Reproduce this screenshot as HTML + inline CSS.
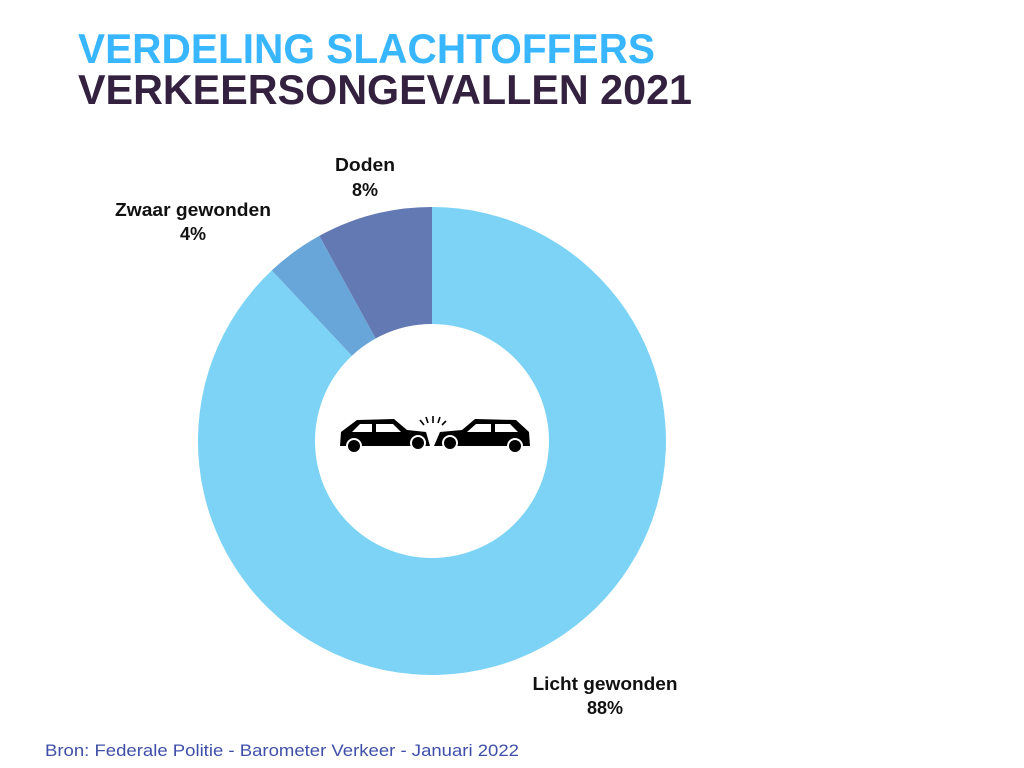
<!DOCTYPE html>
<html><head><meta charset="utf-8"><style>
html,body{margin:0;padding:0;background:#fff;}
svg{display:block;}
</style></head><body>
<svg width="1024" height="768" viewBox="0 0 1024 768" xmlns="http://www.w3.org/2000/svg">
<rect width="1024" height="768" fill="#fff"/>
<text x="78" y="63" font-family="Liberation Sans, sans-serif" font-weight="bold" font-size="42" fill="#38b6ff" textLength="577" lengthAdjust="spacingAndGlyphs">VERDELING SLACHTOFFERS</text>
<text x="78" y="104" font-family="Liberation Sans, sans-serif" font-weight="bold" font-size="42" fill="#33213f" textLength="614" lengthAdjust="spacingAndGlyphs">VERKEERSONGEVALLEN 2021</text>

<path d="M432 207 A234 234 0 1 1 271.8 270.4 L351.9 355.7 A117 117 0 1 0 432 324 Z" fill="#7dd3f5"/>
<path d="M319.3 235.9 A234 234 0 0 1 432 207 L432 324 A117 117 0 0 0 375.6 338.5 Z" fill="#6379b3"/>
<path d="M271.8 270.4 A234 234 0 0 1 319.3 235.9 L375.6 338.5 A117 117 0 0 0 351.9 355.7 Z" fill="#68a5d8"/>

<g font-family="Liberation Sans, sans-serif" font-weight="bold" font-size="18" fill="#111" text-anchor="middle">
<text x="365" y="171" textLength="60" lengthAdjust="spacingAndGlyphs">Doden</text>
<text x="365" y="196">8%</text>
<text x="193" y="216" textLength="156" lengthAdjust="spacingAndGlyphs">Zwaar gewonden</text>
<text x="193" y="240">4%</text>
<text x="605" y="690" textLength="145" lengthAdjust="spacingAndGlyphs">Licht gewonden</text>
<text x="605" y="714">88%</text>
</g>
<text x="45" y="756" font-family="Liberation Sans, sans-serif" font-size="17" fill="#3f4fa8" textLength="474" lengthAdjust="spacingAndGlyphs">Bron: Federale Politie - Barometer Verkeer - Januari 2022</text>

<g fill="#000">
<path d="M340 446 L341 432 L357 420 L394 419 L407 430 L426 432 L430 446 Z"/>
<path d="M360 424 L372 424 L372 432 L352 432 Z" fill="#fff"/>
<path d="M376 424 L393 424 L401 432 L376 432 Z" fill="#fff"/>
<circle cx="354" cy="446" r="8" fill="#fff"/>
<circle cx="354" cy="446" r="6"/>
<circle cx="418" cy="443" r="8" fill="#fff"/>
<circle cx="418" cy="443" r="6"/>
<path d="M530 446 L529 432 L516 420 L475 419 L462 430 L440 432 L434 446 Z"/>
<path d="M476 424 L491 424 L491 432 L467 432 Z" fill="#fff"/>
<path d="M495 424 L510 424 L518 432 L495 432 Z" fill="#fff"/>
<circle cx="515" cy="446" r="8" fill="#fff"/>
<circle cx="515" cy="446" r="6"/>
<circle cx="450" cy="443" r="8" fill="#fff"/>
<circle cx="450" cy="443" r="6"/>
<g stroke="#000" stroke-width="1.6">
<line x1="424" y1="425" x2="420" y2="420"/>
<line x1="428" y1="423" x2="426" y2="417"/>
<line x1="433" y1="423" x2="433" y2="416"/>
<line x1="438" y1="423" x2="440" y2="417"/>
<line x1="442" y1="425" x2="446" y2="421"/>
</g>
</g>
</svg>
</body></html>
